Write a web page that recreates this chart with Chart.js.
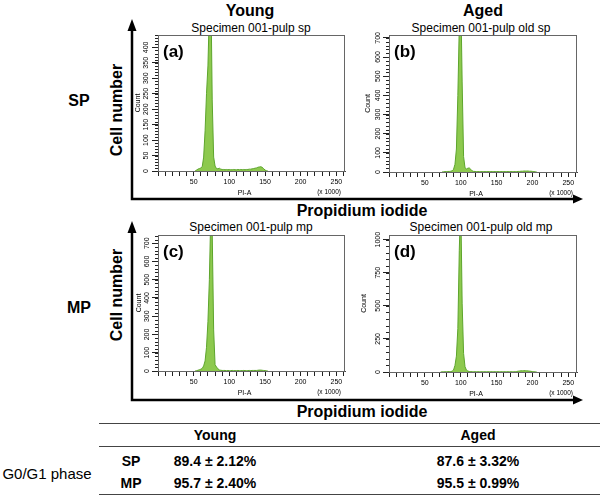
<!DOCTYPE html>
<html>
<head>
<meta charset="utf-8">
<script src="https://cdn.jsdelivr.net/npm/chart.js@4.4.0/dist/chart.umd.min.js"></script>
<style>
  body { margin: 0; background: #fff; }
  #fig { position: relative; width: 600px; height: 496px; overflow: hidden; background: #fff;
         font-family: "Liberation Sans", Arial, Helvetica, sans-serif; color: #000; }
  .lbl { position: absolute; transform: translate(-50%, -50%); white-space: nowrap; line-height: 1; }
  .tag { position: absolute; transform: translateY(-50%); font-weight: bold; font-size: 17px; line-height: 1; }
  .b { font-weight: bold; }
  .rot { transform: translate(-50%, -50%) rotate(-90deg); }
  .hline { position: absolute; height: 0; border-top: 1px solid #444; }
</style>
</head>
<body>
<div id="fig">
  <svg width="600" height="496" style="position:absolute;left:0;top:0">
    <g stroke="#000" stroke-width="2.5" fill="none">
      <polyline points="132,30 132,199 574,199"/>
      <polyline points="132,232 132,400 574,400"/>
    </g>
    <g fill="#000">
      <polygon points="127.5,31 136.5,31 132,19"/>
      <polygon points="127.5,233 136.5,233 132,221"/>
      <polygon points="573,194.5 573,203.5 583,199"/>
      <polygon points="573,395.5 573,404.5 583,400"/>
    </g>
  </svg>

  <div class="lbl b" style="left:250px;top:11px;font-size:16px">Young</div>
  <div class="lbl b" style="left:483px;top:11px;font-size:16px">Aged</div>
  <div class="lbl" style="left:251px;top:28px;font-size:12px">Specimen 001-pulp sp</div>
  <div class="lbl" style="left:481px;top:28px;font-size:12px">Specimen 001-pulp old sp</div>
  <div class="lbl" style="left:251px;top:227px;font-size:12px">Specimen 001-pulp mp</div>
  <div class="lbl" style="left:481px;top:227px;font-size:12px">Specimen 001-pulp old mp</div>

  <div class="lbl b" style="left:79px;top:101px;font-size:16px">SP</div>
  <div class="lbl b" style="left:79px;top:308px;font-size:16px">MP</div>
  <div class="lbl b rot" style="left:117px;top:110px;font-size:16px">Cell number</div>
  <div class="lbl b rot" style="left:117px;top:295px;font-size:16px">Cell number</div>
  <div class="lbl b" style="left:362px;top:211px;font-size:16px">Propidium iodide</div>
  <div class="lbl b" style="left:362px;top:412px;font-size:16px">Propidium iodide</div>

  <div id="table"></div>
</div>

<script>
// PI-A bin centres (x 1000)
const piA = [50, 52, 54, 56, 58, 60, 62, 64, 66, 68,
             70, 72, 74, 76, 78, 80, 82, 84, 86, 88,
             90, 92, 94, 96, 98, 100, 102, 104, 106, 108,
             110, 112, 114, 116, 118, 120, 122, 124, 126, 128,
             130, 132, 134, 136, 138, 140, 142, 144, 146, 148,
             150, 152, 154, 156, 158, 160, 162, 164, 166, 168,
             170, 172, 174, 176, 178, 180, 182, 184, 186, 188,
             190, 192, 194, 196, 198, 200, 202, 204, 206, 208,
             210, 212, 214, 216];

// (a) young SP
const countsA = [0, 0, 3, 6, 8, 10, 14, 45, 130, 250,
                 340, 520, 620, 230, 45, 16, 8, 7, 9, 6,
                 5, 5, 4, 5, 4, 5, 4, 4, 5, 4,
                 4, 5, 4, 5, 4, 5, 4, 5, 5, 6,
                 6, 7, 8, 9, 10, 12, 13, 14, 12, 8,
                 3, 1, 0, 0, 0, 0, 0, 0, 0, 0,
                 0, 0, 0, 0, 0, 0, 0, 0, 0, 0,
                 0, 0, 0, 0, 0, 0, 0, 0, 0, 0,
                 0, 0, 0, 0];
// (b) aged SP
const countsB = [0, 0, 0, 0, 0, 0, 0, 0, 0, 0,
                 0, 0, 0, 1, 2, 2, 3, 3, 4, 6,
                 14, 40, 120, 400, 760, 950, 470, 80, 22, 16,
                 20, 21, 14, 6, 3, 3, 2, 2, 2, 2,
                 2, 2, 2, 2, 2, 2, 2, 2, 2, 2,
                 2, 2, 2, 2, 2, 2, 2, 2, 2, 2,
                 2, 2, 2, 2, 2, 3, 3, 4, 4, 5,
                 5, 5, 5, 4, 4, 3, 2, 1, 0, 0,
                 0, 0, 0, 0];
// (c) young MP
const countsC = [0, 0, 2, 4, 7, 10, 14, 28, 55, 130,
                 270, 500, 860, 760, 225, 35, 22, 12, 6, 4,
                 3, 3, 3, 2, 3, 2, 2, 3, 2, 2,
                 2, 3, 2, 2, 2, 3, 2, 2, 2, 3,
                 2, 3, 3, 3, 3, 4, 5, 5, 4, 3,
                 2, 1, 0, 0, 0, 0, 0, 0, 0, 0,
                 0, 0, 0, 0, 0, 0, 0, 0, 0, 0,
                 0, 0, 0, 0, 0, 0, 0, 0, 0, 0,
                 0, 0, 0, 0];
// (d) aged MP
const countsD = [0, 0, 0, 0, 0, 0, 0, 0, 0, 0,
                 0, 0, 1, 2, 2, 2, 3, 3, 3, 6,
                 15, 50, 120, 330, 920, 1300, 520, 140, 40, 14,
                 7, 4, 3, 2, 2, 2, 2, 2, 2, 2,
                 2, 2, 2, 2, 2, 2, 2, 2, 2, 2,
                 2, 2, 2, 2, 2, 2, 2, 2, 2, 2,
                 2, 2, 2, 2, 4, 6, 8, 9, 9, 10,
                 10, 9, 8, 7, 5, 3, 2, 1, 0, 0,
                 0, 0, 0, 0];

const xTickLabels = [50, 100, 150, 200, 250];
const yTicksA = [0, 50, 100, 150, 200, 250, 300, 350, 400];
const yTicksB = [0, 100, 200, 300, 400, 500, 600, 700];
const yTicksC = [0, 100, 200, 300, 400, 500, 600, 700];
const yTicksD = [0, 250, 500, 750, 1000];

// G0/G1 phase table
const groups = ['Young', 'Aged'];
const fractions = ['SP', 'MP'];
const g0g1Mean = [[89.4, 87.6], [95.7, 95.5]];
const g0g1Sd = [[2.12, 3.32], [2.40, 0.99]];

const FONT = '"Liberation Sans", Arial, Helvetica, sans-serif';
const FILL = '#8dc94e';
const EDGE = '#5da52c';
const PAD_T = 7, PAD_R = 6, X_AXIS_H = 30;

Chart.defaults.font.family = FONT;
Chart.defaults.color = '#000';

// frame round the plot, minor y ticks and x axis captions
const frame = {
  id: 'frame',
  afterDraw(chart, args, opts) {
    const { ctx, chartArea: a, scales: { y } } = chart;
    ctx.save();
    ctx.strokeStyle = '#666';
    ctx.lineWidth = 1;
    ctx.strokeRect(a.left + 0.5, a.top + 0.5, a.right - a.left - 1, a.bottom - a.top);
    ctx.strokeStyle = '#222';
    ctx.beginPath();
    for (let v = 0; v <= y.max; v += opts.minor) {
      const py = Math.round(y.getPixelForValue(v)) + 0.5;
      ctx.moveTo(a.left - 3, py);
      ctx.lineTo(a.left, py);
    }
    ctx.stroke();
    ctx.fillStyle = '#000';
    ctx.textBaseline = 'middle';
    ctx.textAlign = 'center';
    ctx.font = '7px ' + FONT;
    ctx.fillText('PI-A', (a.left + a.right) / 2 - 7, a.bottom + 22);
    ctx.textAlign = 'right';
    ctx.font = '6.5px ' + FONT;
    ctx.fillText('(x 1000)', a.right - 4, a.bottom + 21);
    ctx.restore();
  }
};

const panels = [
  { tag: '(a)', counts: countsA, yMax: 440, yTicks: yTicksA, yMinor: 10, box: { l: 158, r: 345, t: 35, b: 171 }, axisW: 24, yPad: 0.5 },
  { tag: '(b)', counts: countsB, yMax: 715, yTicks: yTicksB, yMinor: 20, box: { l: 389, r: 577, t: 35, b: 172 }, axisW: 25, yPad: -1 },
  { tag: '(c)', counts: countsC, yMax: 745, yTicks: yTicksC, yMinor: 20, box: { l: 158, r: 345, t: 235, b: 371 }, axisW: 23, yPad: -1 },
  { tag: '(d)', counts: countsD, yMax: 1035, yTicks: yTicksD, yMinor: 50, box: { l: 389, r: 577, t: 235, b: 372 }, axisW: 29, yPad: -3 }
];

const fig = document.getElementById('fig');

panels.forEach(function (p) {
  const c = document.createElement('canvas');
  const w = p.box.r - p.box.l + p.axisW + PAD_R;
  const h = p.box.b - p.box.t + PAD_T + X_AXIS_H;
  c.width = w;
  c.height = h;
  c.style.cssText = 'position:absolute;left:' + (p.box.l - p.axisW) + 'px;top:' + (p.box.t - PAD_T) + 'px;width:' + w + 'px;height:' + h + 'px';
  fig.appendChild(c);

  // leave empty bins off so the baseline stays clean
  const points = piA.map(function (x, i) {
    const near = p.counts[i] > 0 || p.counts[i - 1] > 0 || p.counts[i + 1] > 0;
    return { x: x, y: near ? p.counts[i] : null };
  });

  new Chart(c, {
    type: 'line',
    data: {
      datasets: [{
        data: points,
        fill: 'origin',
        backgroundColor: FILL,
        borderColor: EDGE,
        borderWidth: 1,
        pointRadius: 0,
        tension: 0
      }]
    },
    options: {
      responsive: false,
      animation: false,
      devicePixelRatio: 1,
      layout: { padding: { top: PAD_T, right: PAD_R, left: 0, bottom: 0 } },
      plugins: {
        legend: { display: false },
        tooltip: { enabled: false },
        frame: { minor: p.yMinor }
      },
      scales: {
        x: {
          type: 'linear',
          min: 0,
          max: 262.144,
          ticks: {
            stepSize: 10,
            includeBounds: false,
            autoSkip: false,
            minRotation: 0,
            maxRotation: 0,
            padding: 2,
            font: { size: 7 },
            callback: function (v) { return xTickLabels.includes(v) ? String(v) : ''; }
          },
          grid: { drawOnChartArea: false, drawTicks: true, tickLength: 5, tickColor: '#222' },
          border: { display: true, color: '#444' },
          afterFit: function (s) { s.height = X_AXIS_H; }
        },
        y: {
          min: 0,
          max: p.yMax,
          afterBuildTicks: function (s) { s.ticks = p.yTicks.map(function (v) { return { value: v }; }); },
          ticks: {
            autoSkip: false,
            minRotation: 90,
            maxRotation: 90,
            crossAlign: 'center',
            padding: p.yPad,
            font: { size: 7 },
            callback: function (v) { return String(v); }
          },
          grid: { drawOnChartArea: false, drawTicks: true, tickLength: 6, tickColor: '#222' },
          border: { display: true, color: '#444' },
          title: { display: true, text: 'Count', font: { size: 7 }, padding: 0 },
          afterFit: function (s) { s.width = p.axisW; }
        }
      }
    },
    plugins: [frame]
  });

  const t = document.createElement('div');
  t.className = 'tag';
  t.textContent = p.tag;
  t.style.left = (p.box.l + 5) + 'px';
  t.style.top = (p.box.t + 16) + 'px';
  fig.appendChild(t);
});

// results table
const table = document.getElementById('table');
const colX = [215, 478];
const rowY = [461, 483];
function addLabel(text, x, y, size, bold) {
  const d = document.createElement('div');
  d.className = 'lbl' + (bold ? ' b' : '');
  d.style.left = x + 'px';
  d.style.top = y + 'px';
  d.style.fontSize = size + 'px';
  d.textContent = text;
  table.appendChild(d);
}
[423, 446, 494].forEach(function (y) {
  const l = document.createElement('div');
  l.className = 'hline';
  l.style.cssText = 'left:99px;width:501px;top:' + y + 'px';
  table.appendChild(l);
});
groups.forEach(function (g, j) { addLabel(g, colX[j], 435, 14, true); });
fractions.forEach(function (f, i) {
  addLabel(f, 131, rowY[i], 14, true);
  groups.forEach(function (g, j) {
    addLabel(g0g1Mean[i][j].toFixed(1) + ' \u00b1 ' + g0g1Sd[i][j].toFixed(2) + '%', colX[j], rowY[i], 14, true);
  });
});
addLabel('G0/G1 phase', 47, 473, 15, false);
</script>
</body>
</html>
